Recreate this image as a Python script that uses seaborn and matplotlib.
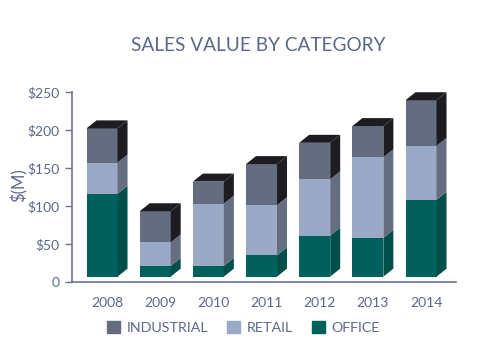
import pandas as pd
import seaborn as sns
import matplotlib.pyplot as plt
from matplotlib.patches import Patch

years = ['2008', '2009', '2010', '2011', '2012', '2013', '2014']
office = [109, 14, 14, 28, 54, 51, 101]
retail = [41, 31, 82, 66, 74, 106, 71]
industrial = [45, 41, 29, 54, 48, 41, 60]
legend_order = ['INDUSTRIAL', 'RETAIL', 'OFFICE']
stack_order = ['OFFICE', 'RETAIL', 'INDUSTRIAL']
ytick_vals = [0, 50, 100, 150, 200, 250]
ytick_labels = ['0', '$50', '$100', '$150', '$200', '$250']

front = {'OFFICE': '#00605c', 'RETAIL': '#9aa9c5', 'INDUSTRIAL': '#646d80'}
side = {'OFFICE': '#004f4b', 'RETAIL': '#656d80', 'INDUSTRIAL': '#1c1c21'}
top_color = '#1c1c21'
text_color = '#5b6889'
axis_color = '#6b7591'

sns.set_theme(style='white')
plt.rcParams['font.family'] = ['Lato', 'DejaVu Sans']

df = pd.DataFrame({'year': years, 'OFFICE': office, 'RETAIL': retail, 'INDUSTRIAL': industrial})
cum = df[stack_order].cumsum(axis=1)

fig = plt.figure(figsize=(4.88, 3.52), dpi=100)
ax = fig.add_axes([0.147, 0.199, 0.787, 0.540])

# fake 3d look
lift = 7
bar_w = 0.583
dx, dy = 0.188, 10.5
shift = dx / 2

# tallest layer first so the lower ones cover it
for col in reversed(stack_order):
    sns.barplot(x=df['year'], y=cum[col], color=front[col], width=bar_w,
                saturation=1, ax=ax, linewidth=0)

for p in ax.patches:
    p.set_x(p.get_x() - shift)
    p.set_y(lift)

for i in range(len(years)):
    x0 = i - bar_w / 2 - shift
    x1 = x0 + bar_w
    base = lift
    for col in stack_order:
        t = lift + cum.loc[i, col]
        ax.fill([x1, x1 + dx, x1 + dx, x1], [base, base + dy, t + dy, t],
                color=side[col], lw=0)
        base = t
    ax.fill([x0, x1, x1 + dx, x0 + dx], [base, base, base + dy, base + dy],
            color=top_color, lw=0)

ax.set_xlim(-0.664, 6.56)
ax.set_ylim(0, 250)
ax.set_yticks(ytick_vals)
ax.set_yticklabels(ytick_labels)
ax.set_xlabel('')
ax.set_ylabel('')
sns.despine(ax=ax)
for s in ['left', 'bottom']:
    ax.spines[s].set_color(axis_color)
    ax.spines[s].set_linewidth(1.2)
ax.tick_params(axis='y', left=True, length=5, width=1, color=axis_color,
               labelcolor=text_color, labelsize=10, pad=4)
ax.tick_params(axis='x', bottom=False, labelcolor=text_color, labelsize=10, pad=5)

fig.text(0.529, 0.872, 'SALES VALUE BY CATEGORY', ha='center', va='center',
         fontsize=13.7, color=text_color)
fig.text(0.039, 0.474, '$(M)', ha='center', va='center', rotation=90,
         fontsize=12, color=text_color)

handles = [Patch(color=front[c]) for c in legend_order]
fig.legend(handles, legend_order, loc='center', bbox_to_anchor=(0.499, 0.069),
           ncol=3, frameon=False, fontsize=10.3, labelcolor=text_color,
           handlelength=0.9, handleheight=0.9, handletextpad=0.45, columnspacing=1.35)

fig.savefig('out.png', dpi=100)
